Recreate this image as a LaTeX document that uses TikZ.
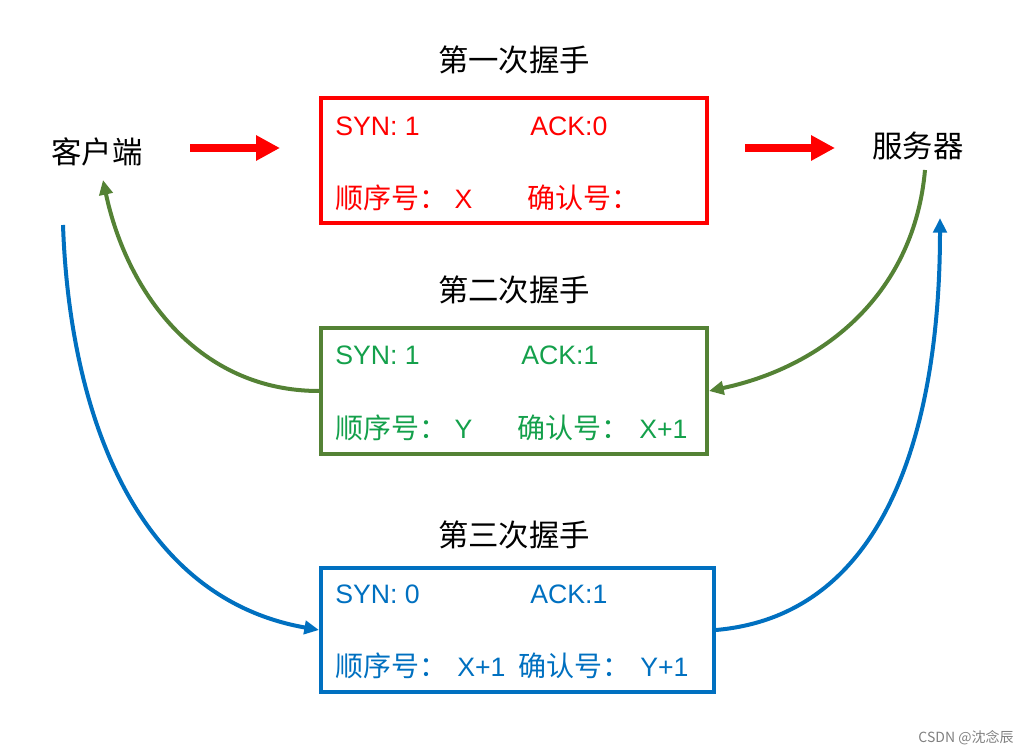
\documentclass[tikz,border=0pt]{standalone}
\usepackage{fontspec}
\setmainfont{Liberation Sans}
\newfontfamily\cjkfont{Noto Sans CJK SC}
\usetikzlibrary{arrows.meta,positioning}
\definecolor{hsred}{RGB}{255,0,0}
\definecolor{hsgreen}{RGB}{84,130,53}
\definecolor{hsgreentext}{RGB}{20,160,75}
\definecolor{hsblue}{RGB}{0,112,192}
\newcommand\zhtext[1]{{\cjkfont\fontsize{21pt}{21pt}\selectfont #1}}
\tikzset{
  packet/.style={draw,line width=3pt,inner sep=0pt},
  field/.style={anchor=west,inner sep=0pt,font=\fontsize{20pt}{20pt}\selectfont},
  title/.style={font=\cjkfont\fontsize{22.8pt}{22.8pt}\selectfont},
  flow/.style={line width=3pt,-{Triangle[length=11pt,width=10pt]}},
  send/.style={hsred,line width=6pt,-{Triangle[length=18pt,width=18pt]}}
}

\begin{document}
\begin{tikzpicture}[x=0.75pt,y=-0.75pt]
  \useasboundingbox (0,0) rectangle (1032,755);
  % End points
  \node[title] (client) at (97,152) {客户端};
  \node[title] (server) at (918,146) {服务器};
  \coordinate (cout) at (63,225);
  \coordinate (cin) at (103,180);
  \coordinate (sout) at (925,170);
  \coordinate (sin) at (940,218);
  % First handshake
  \node[title] (t1) at (514,60) {第一次握手};
  \node[packet,hsred,minimum width=289.5pt,minimum height=93.75pt] (box1) at (514,160.5) {};
  \node[field,hsred] (syn1) at (335,126) {SYN: 1};
  \node[field,hsred] (ack1) at (530,126) {ACK:0};
  \node[field,hsred] (seq1) at (335,198) {\zhtext{顺序号：} X};
  \node[field,hsred] (cnf1) at (527,198) {\zhtext{确认号：}};
  \coordinate (r1a) at (190,148);
  \coordinate (r1b) at (280,148);
  \coordinate (r2a) at (745,148);
  \coordinate (r2b) at (835,148);
  \draw[send] (r1a) -- (r1b);
  \draw[send] (r2a) -- (r2b);
  % Second handshake
  \node[title] (t2) at (514,290) {第二次握手};
  \node[packet,hsgreen,minimum width=289.5pt,minimum height=94.5pt] (box2) at (514,391) {};
  \node[field,hsgreentext] (syn2) at (335,355) {SYN: 1};
  \node[field,hsgreentext] (ack2) at (521,355) {ACK:1};
  \node[field,hsgreentext] (seq2) at (335,428) {\zhtext{顺序号：} Y};
  \node[field,hsgreentext] (cnf2) at (517,428) {\zhtext{确认号：} \hspace{2pt}X+1};
  \draw[flow,hsgreen] (sout) to[out=-95,in=12] (box2.east);
  \draw[flow,hsgreen] (box2.west) to[out=180,in=-78] (cin);
  % Third handshake
  \node[title] (t3) at (514,535) {第三次握手};
  \node[packet,hsblue,minimum width=294.75pt,minimum height=93pt] (box3) at (517.5,630) {};
  \node[field,hsblue] (syn3) at (335,594) {SYN: 0};
  \node[field,hsblue] (ack3) at (530,594) {ACK:1};
  \node[field,hsblue] (seq3) at (335,666) {\zhtext{顺序号：} \hspace{2pt}X+1 \hspace{4pt}\zhtext{确认号：} \hspace{2pt}Y+1};
  \draw[flow,hsblue] (cout) to[out=-88,in=170] (box3.west);
  \draw[flow,hsblue] (box3.east) to[out=5,in=-90] (sin);
  % Watermark
  \node[gray,font=\cjkfont\fontsize{10.5pt}{10.5pt}\selectfont] (mark) at (966,738) {CSDN @沈念辰};
\end{tikzpicture}
\end{document}
